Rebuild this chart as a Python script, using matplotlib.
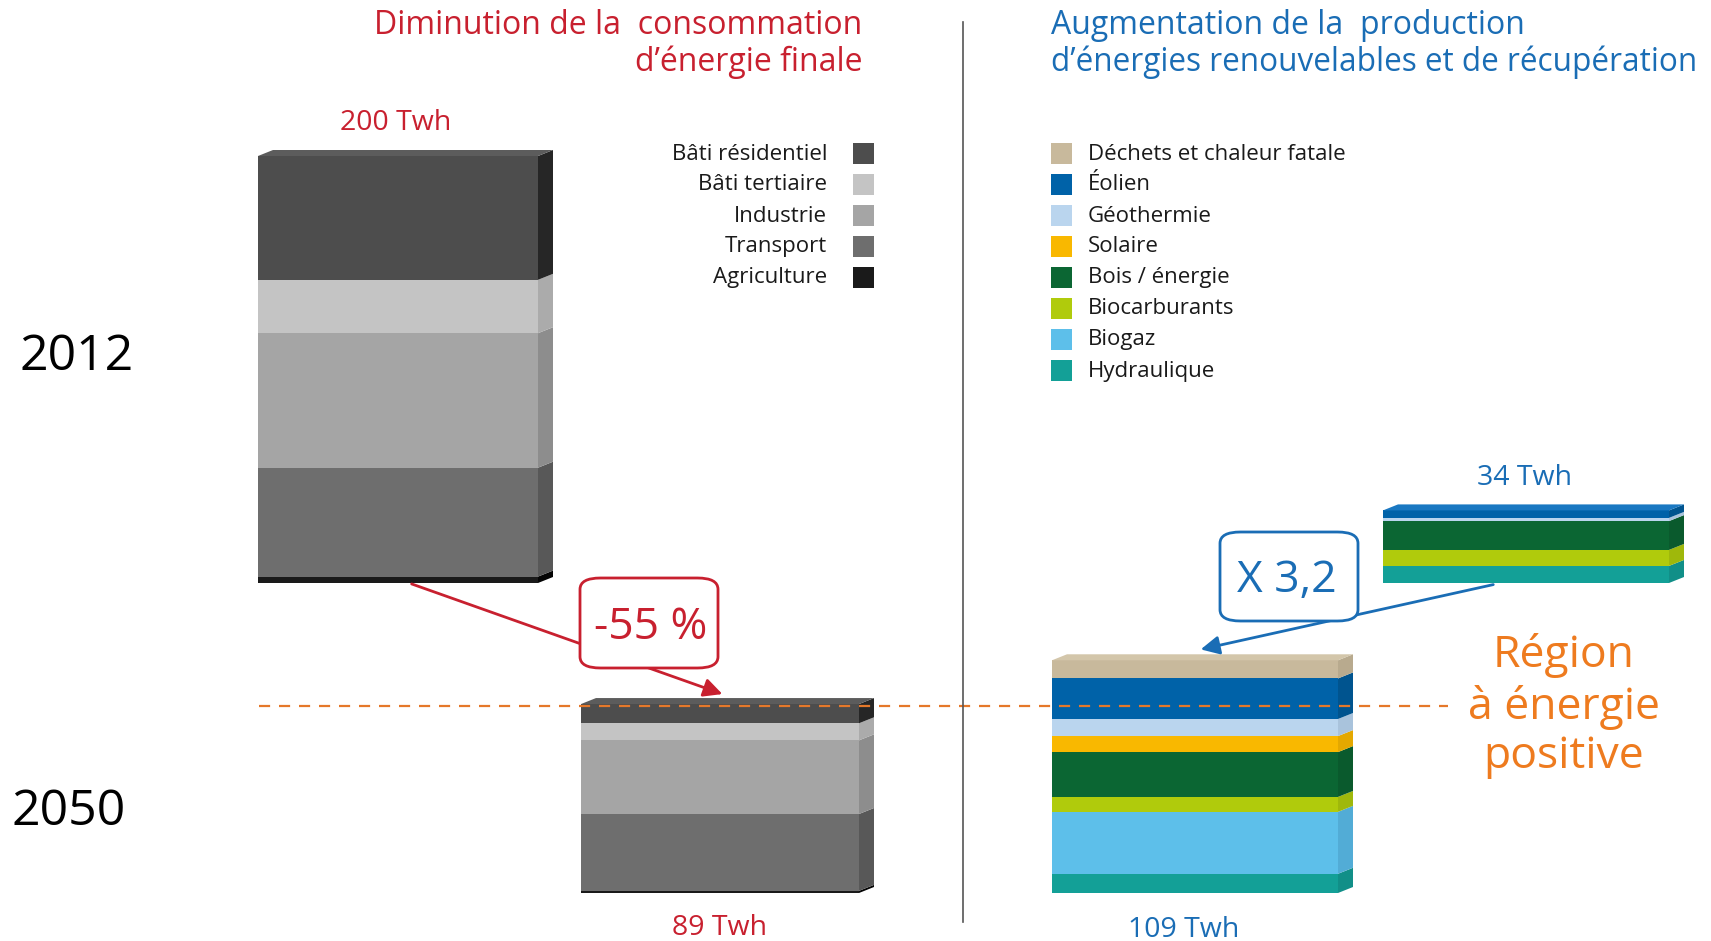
import matplotlib
matplotlib.use("Agg")
import matplotlib.pyplot as plt
from matplotlib.patches import Polygon, Rectangle, FancyBboxPatch, FancyArrowPatch
import numpy as np

# ---------------- data ----------------
conso_labels = ["Bâti résidentiel", "Bâti tertiaire", "Industrie", "Transport", "Agriculture"]
conso_colors = ["#4d4d4d", "#c4c4c4", "#a5a5a5", "#6e6e6e", "#1a1a1a"]
conso_side = ["#262626", "#ababab", "#8d8d8d", "#585858", "#050505"]
conso_2012 = [58, 25, 63, 51, 3]     # TWh (top -> bottom)
conso_2050 = [9, 8, 34.5, 36, 1]

enr_labels = ["Déchets et chaleur fatale", "Éolien", "Géothermie", "Solaire",
              "Bois / énergie", "Biocarburants", "Biogaz", "Hydraulique"]
enr_colors = ["#c8b99c", "#0062a8", "#bad5ee", "#f9b800",
              "#0b6633", "#b0cb0c", "#5dbfea", "#13a097"]
enr_side = ["#b8aa8e", "#00548f", "#a9c3dc", "#e4a800",
            "#0a5a2d", "#9fb80b", "#52acd6", "#118f88"]
enr_2012 = [0, 3.5, 1.5, 0, 13.5, 7.5, 0, 8]
enr_2050 = [8.5, 19, 8, 7.5, 21, 7, 29, 9]

totals_labels = {"c2012": "200 Twh", "c2050": "89 Twh", "e2012": "34 Twh", "e2050": "109 Twh"}

# ---------------- layout ----------------
W, H = 1711, 941
PX = 2.135          # pixels per TWh
Y2050_PX, Y2012_PX = 893, 583
fig = plt.figure(figsize=(W / 100, H / 100), dpi=100)
ax = fig.add_axes([0, 0, 1, 1])
ax.set_xlim(0, W)
ax.set_ylim((Y2050_PX - H) / PX, Y2050_PX / PX)
ax.axis("off")
base2012 = (Y2050_PX - Y2012_PX) / PX
base2050 = 0.0
DX, DY = 15, 6 / PX

plt.rcParams["font.family"] = ["Open Sans", "DejaVu Sans"]


def fx(x):
    return x / W


def fy(y):
    return 1 - y / H


def stacked_bar(center, width, values, colors, sides, base, topcolor):
    vals = list(values)[::-1]
    cols = list(colors)[::-1]
    sds = list(sides)[::-1]
    bottoms = base + np.concatenate([[0], np.cumsum(vals)[:-1]])
    x0, x1 = center - width / 2, center + width / 2
    for v, b, c, s in zip(vals, bottoms, cols, sds):
        if v <= 0:
            continue
        ax.bar(center, v, width=width, bottom=b, color=c, linewidth=0, zorder=2)
        ax.add_patch(Polygon([(x1, b), (x1 + DX, b + DY), (x1 + DX, b + v + DY), (x1, b + v)],
                             closed=True, facecolor=s, edgecolor="none", zorder=2))
    top = base + sum(vals)
    ax.add_patch(Polygon([(x0, top), (x0 + DX, top + DY), (x1 + DX, top + DY), (x1, top)],
                         closed=True, facecolor=topcolor, edgecolor="none", zorder=2))
    return top


stacked_bar(398, 280, conso_2012, conso_colors, conso_side, base2012, "#5c5c5c")
stacked_bar(720, 278, conso_2050, conso_colors, conso_side, base2050, "#5c5c5c")
stacked_bar(1195, 286, enr_2050, enr_colors, enr_side, base2050, "#d3c6aa")
stacked_bar(1526, 286, enr_2012, enr_colors, enr_side, base2012, "#1a78c2")

# separators
fig.add_artist(plt.Line2D([fx(963), fx(963)], [fy(22), fy(922)], color="#555555", lw=1.2))
ax.plot([259, 1448], [(Y2050_PX - 706) / PX] * 2, color="#e5782a", lw=1.6,
        dashes=(5, 4), zorder=5)

RED = "#c8202f"
BLUE = "#1a6db5"
ORANGE = "#ee7b1f"

# titles
TS = 23
fig.text(fx(862), fy(26), "Diminution de la  consommation", color=RED, fontsize=TS,
         ha="right", va="center")
fig.text(fx(862), fy(62), "d’énergie finale", color=RED, fontsize=TS, ha="right", va="center")
fig.text(fx(1051), fy(26), "Augmentation de la  production", color=BLUE, fontsize=TS,
         ha="left", va="center")
fig.text(fx(1051), fy(62), "d’énergies renouvelables et de récupération", color=BLUE,
         fontsize=TS - 0.3, ha="left", va="center")

# totals
NS = 20.5
fig.text(fx(396), fy(123), totals_labels["c2012"], color=RED, fontsize=NS, ha="center", va="center")
fig.text(fx(720), fy(928), totals_labels["c2050"], color=RED, fontsize=NS, ha="center", va="center")
fig.text(fx(1184), fy(930), totals_labels["e2050"], color=BLUE, fontsize=NS, ha="center", va="center")
fig.text(fx(1525), fy(478), totals_labels["e2012"], color=BLUE, fontsize=NS, ha="center", va="center")

# years
fig.text(fx(77), fy(357), "2012", color="black", fontsize=36, ha="center", va="center")
fig.text(fx(69), fy(812), "2050", color="black", fontsize=36, ha="center", va="center")

# region positive
for yy, t in zip([655, 708, 757], ["Région", "à énergie", "positive"]):
    fig.text(fx(1564), fy(yy), t, color=ORANGE, fontsize=32, ha="center", va="center")

# legends
rows = [154, 185, 216, 247, 278, 309, 340, 371]
LS = 16
for lab, col, y in zip(conso_labels, conso_colors, rows):
    fig.text(fx(827), fy(y), lab, fontsize=LS, color="#1a1a1a", ha="right", va="center")
    fig.add_artist(Rectangle((fx(853), fy(y + 10)), 21 / W, 21 / H, facecolor=col,
                             edgecolor="none", transform=fig.transFigure))
for lab, col, y in zip(enr_labels, enr_colors, rows):
    fig.text(fx(1088), fy(y), lab, fontsize=LS, color="#1a1a1a", ha="left", va="center")
    fig.add_artist(Rectangle((fx(1051), fy(y + 10)), 21 / W, 21 / H, facecolor=col,
                             edgecolor="none", transform=fig.transFigure))

# arrows
fig.add_artist(FancyArrowPatch((fx(409), fy(583)), (fx(725), fy(695)),
                               transform=fig.transFigure, arrowstyle="-|>",
                               mutation_scale=28, color=RED, lw=2, zorder=6))
fig.add_artist(FancyArrowPatch((fx(1496), fy(584)), (fx(1198), fy(650)),
                               transform=fig.transFigure, arrowstyle="-|>",
                               mutation_scale=28, color=BLUE, lw=2, zorder=6))

# boxes
fig.add_artist(FancyBboxPatch((fx(580), fy(668)), 138 / W, 90 / H,
                              boxstyle="round,pad=0,rounding_size=0.012",
                              transform=fig.transFigure, facecolor="white",
                              edgecolor=RED, lw=2, zorder=7))
fig.text(fx(651), fy(628), "-55 %", color=RED, fontsize=32, ha="center", va="center", zorder=8)
fig.add_artist(FancyBboxPatch((fx(1220), fy(621)), 138 / W, 89 / H,
                              boxstyle="round,pad=0,rounding_size=0.012",
                              transform=fig.transFigure, facecolor="white",
                              edgecolor=BLUE, lw=2, zorder=7))
fig.text(fx(1287), fy(581), "X 3,2", color=BLUE, fontsize=32, ha="center", va="center", zorder=8)

fig.savefig("out.png", dpi=100)
